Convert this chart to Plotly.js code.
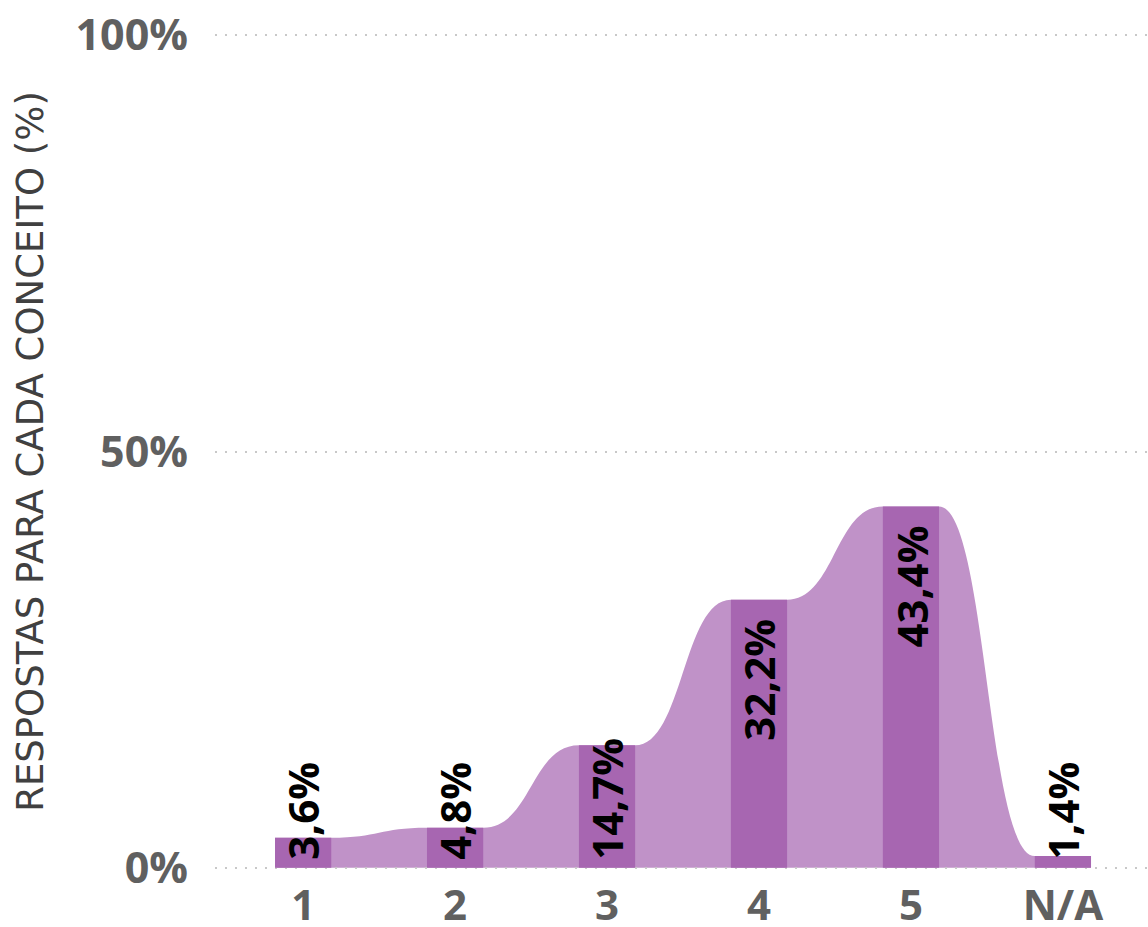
<!DOCTYPE html>
<html>
<head>
<meta charset="utf-8">
<script src="https://cdn.plot.ly/plotly-3.0.1.min.js"></script>
<style>
  html, body { margin: 0; padding: 0; background: #ffffff; }
  #chart { width: 1148px; height: 927px; }
</style>
</head>
<body>
<div id="chart"></div>
<script>
// ---- data ----
const categories = ['1', '2', '3', '4', '5', 'N/A'];
const values = [3.6, 4.8, 14.7, 32.2, 43.4, 1.4];
const yTickVals = [0, 50, 100];
const yTickText = ['0%', '50%', '100%'];
const yAxisTitle = 'RESPOSTAS PARA CADA CONCEITO (%)';

// ---- styles ----
const barColor = '#a766b1';
const areaColor = '#c092c8';
const tickColor = '#606060';
const barWidth = 0.37;

const xs = categories.map((c, i) => i);

// smooth stepped area behind the bars, built from the data values
let path = '';
const half = barWidth / 2;
for (let i = 0; i < xs.length; i++) {
  const a = xs[i] - half, b = xs[i] + half, v = values[i];
  if (i === 0) {
    path += `M ${a},0 L ${a},${v} `;
  }
  path += `L ${b},${v} `;
  if (i < xs.length - 1) {
    const n = xs[i + 1] - half, nv = values[i + 1];
    const d = n - b;
    path += `C ${b + d * 0.5},${v} ${n - d * 0.5},${nv} ${n},${nv} `;
  } else {
    path += `L ${b},0 Z`;
  }
}

const labels = values.map(v => v.toFixed(1).replace('.', ',') + '%');

const annotations = values.map((v, i) => {
  const tall = v > 20;
  return {
    x: xs[i], y: tall ? v : 0,
    xref: 'x', yref: 'y',
    text: labels[i],
    showarrow: false,
    textangle: -90,
    xanchor: 'center',
    yanchor: tall ? 'top' : 'bottom',
    yshift: tall ? -17 : 6,
    font: { family: 'Open Sans', size: 42, color: '#000000', weight: 700 }
  };
});

const trace = {
  type: 'bar',
  x: xs,
  y: values,
  width: barWidth,
  marker: { color: barColor, line: { width: 0 } },
  hoverinfo: 'skip'
};

const layout = {
  width: 1148,
  height: 927,
  margin: { l: 215, r: 0, t: 27, b: 51 },
  paper_bgcolor: '#ffffff',
  plot_bgcolor: '#ffffff',
  showlegend: false,
  xaxis: {
    range: [-0.58, 5.56],
    tickvals: xs,
    ticktext: categories,
    showgrid: false,
    zeroline: false,
    showline: false,
    ticks: '',
    ticklabelstandoff: 1,
    tickfont: { family: 'Open Sans', size: 42, color: tickColor, weight: 700 }
  },
  yaxis: {
    range: [-1, 101],
    tickvals: yTickVals,
    ticktext: yTickText,
    showgrid: true,
    gridcolor: '#c8c8c8',
    gridwidth: 2,
    griddash: '2px,8px',
    zeroline: false,
    showline: false,
    ticks: '',
    ticklabelstandoff: 26,
    tickfont: { family: 'Open Sans', size: 43, color: tickColor, weight: 700 },
    title: {
      text: yAxisTitle,
      font: { family: 'DejaVu Sans', size: 37, color: '#404040' },
      standoff: 20
    }
  },
  shapes: [{
    type: 'path',
    path: path,
    xref: 'x', yref: 'y',
    fillcolor: areaColor,
    line: { width: 0 },
    layer: 'below'
  }],
  annotations: annotations
};

Plotly.newPlot('chart', [trace], layout, { displayModeBar: false, staticPlot: true });
</script>
</body>
</html>
